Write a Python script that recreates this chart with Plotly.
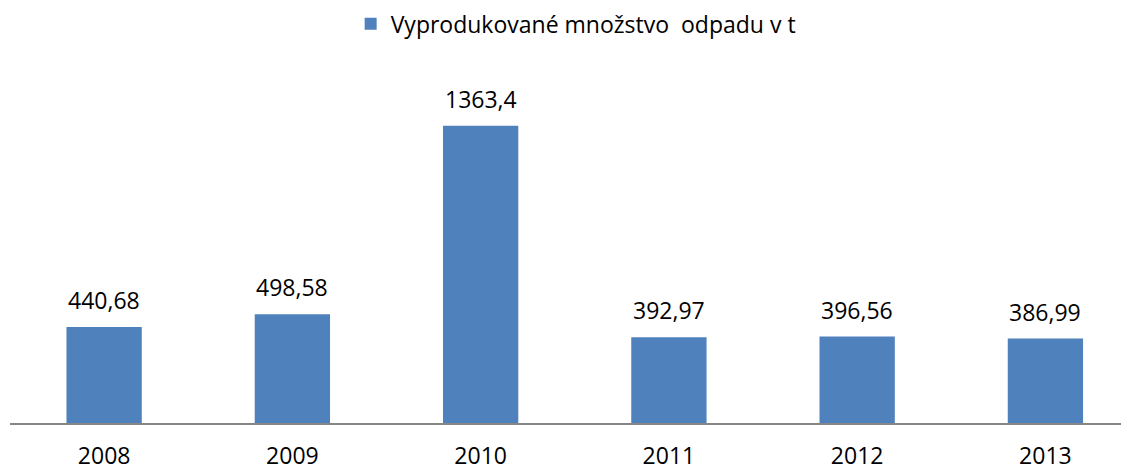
import plotly.graph_objects as go

years = ["2008", "2009", "2010", "2011", "2012", "2013"]
values = [440.68, 498.58, 1363.4, 392.97, 396.56, 386.99]
labels = [str(v).replace(".", ",") for v in values]
series_name = "Vyprodukované množstvo  odpadu v t"

FONT = "Open Sans"
FS = 23
BAR_COLOR = "#4F81BD"

fig = go.Figure()
fig.add_trace(go.Bar(
    x=years, y=values, name=series_name,
    marker=dict(color=BAR_COLOR, line=dict(width=0)),
    hoverinfo="skip",
))

for i, (v, lab) in enumerate(zip(values, labels)):
    fig.add_annotation(x=i, y=v, xref="x", yref="y", text=lab, showarrow=False,
                       xanchor="center", yanchor="bottom", yshift=9,
                       font=dict(family=FONT, size=FS, color="#000000"))

fig.update_layout(
    width=1121, height=463,
    margin=dict(l=2, r=0, t=52, b=48, autoexpand=False),
    paper_bgcolor="white", plot_bgcolor="white",
    bargap=0.6,
    showlegend=True,
    legend=dict(orientation="h", x=0.5055, xanchor="center", y=1.1, yanchor="middle",
                font=dict(family=FONT, size=FS, color="#000000")),
    font=dict(family=FONT, size=FS, color="#000000"),
    xaxis=dict(type="category", range=[-0.5, 5.444], showgrid=False,
               showline=True, linecolor="#868686", linewidth=1.5,
               ticks="outside", ticklen=12, tickcolor="rgba(0,0,0,0)",
               tickfont=dict(family=FONT, size=FS, color="#000000"),
               fixedrange=True),
    yaxis=dict(range=[0, 1664.7], visible=False, showgrid=False, zeroline=False, fixedrange=True),
)

fig.write_html("out.html", config={"displayModeBar": False})
